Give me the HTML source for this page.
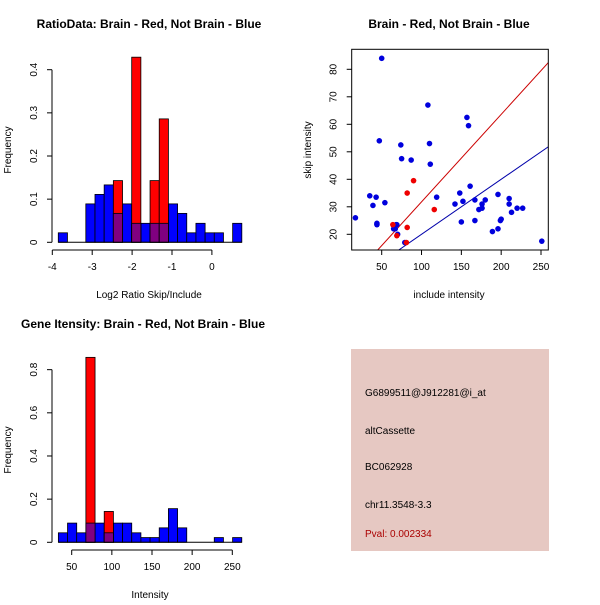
<!DOCTYPE html>
<html><head><meta charset="utf-8"><style>
body{margin:0;background:#fff;}
svg text{font-family:"Liberation Sans",sans-serif;}
</style></head><body>
<svg id="c" width="600" height="600" xmlns="http://www.w3.org/2000/svg">
<rect width="600" height="600" fill="#fff"/>
</svg>
<script>
// Panel 1: ratio histogram
const ratioBinStart = -3.85, ratioBinWidth = 0.23;
const ratioBlue = [0.022,0,0,0.089,0.111,0.133,0.067,0.089,0.044,0.044,0.044,0.044,0.089,0.067,0.022,0.044,0.022,0.022,0,0.044];
const ratioRed  = [0,0,0,0,0,0,0.143,0,0.429,0,0.143,0.286,0,0,0,0,0,0,0,0];
const ratioXTicks = [-4,-3,-2,-1,0];
const ratioYTicks = [0,0.1,0.2,0.3,0.4];
// Panel 3: intensity histogram
const intBinStart = 33.4, intBinWidth = 11.42;
const intBlue = [0.044,0.089,0.044,0.089,0.089,0.044,0.089,0.089,0.044,0.022,0.022,0.067,0.156,0.067,0,0,0,0.022,0,0.022];
const intRed  = [0,0,0,0.857,0,0.143,0,0,0,0,0,0,0,0,0,0,0,0,0,0];
const intXTicks = [50,100,150,200,250];
const intYTicks = [0,0.2,0.4,0.6,0.8];
// Panel 2: scatter
const blueX = [17,50,47,35,39,43,44,44,54,65,67,68,69,70,74,75,79,87,108,110,111,119,142,148,150,152,157,159,161,167,167,172,176,176,180,189,196,196,199,200,210,210,213,220,227,251];
const blueY = [26,84,54,34,30.5,33.5,24,23.5,31.5,22,22,23.5,23.5,20,52.5,47.5,17,47,67,53,45.5,33.5,31,35,24.5,32,62.5,59.5,37.5,32.5,25,29,29.5,31,32.5,21,34.5,22,25,25.5,33,31,28,29.5,29.5,17.5];
const redX = [64,69,82,82,90,116,81];
const redY = [23.5,19.5,35,22.5,39.5,29,17];
const scatXTicks = [50,100,150,200,250];
const scatYTicks = [20,30,40,50,60,70,80];
const redSlope = 0.318, blueSlope = 0.2;

const svg = document.getElementById('c');
const NS = 'http://www.w3.org/2000/svg';
function el(tag, attrs, parent){
  const e = document.createElementNS(NS, tag);
  for (const k in attrs) e.setAttribute(k, attrs[k]);
  (parent||svg).appendChild(e);
  return e;
}
function txt(x,y,s,size,opts){
  const t = el('text',{x:x,y:y,'font-size':size,'text-anchor':(opts&&opts.anchor)||'middle',fill:(opts&&opts.fill)||'#000'});
  if (opts&&opts.bold) t.setAttribute('font-weight','bold');
  if (opts&&opts.rot) t.setAttribute('transform','rotate(-90 '+x+' '+y+')');
  t.textContent = s;
  return t;
}

function hist(cfg){
  const sx = v => cfg.px0 + (v - cfg.x0) * cfg.kx;
  const sy = v => cfg.py0 - v * cfg.ky;
  const g = el('g',{});
  
  
  cfg.blue.forEach((v,i)=>{
    if (v<=0) return;
    const a = cfg.start + i*cfg.w, b = a + cfg.w;
    const r = el('rect',{x:sx(a),y:sy(v),width:sx(b)-sx(a),height:sy(0)-sy(v),fill:'#0000ff',stroke:'#000','stroke-width':0.8},g);
    
    
  });
  cfg.red.forEach((v,i)=>{
    if (v<=0) return;
    const a = cfg.start + i*cfg.w, b = a + cfg.w;
    const r = el('rect',{x:sx(a),y:sy(v),width:sx(b)-sx(a),height:sy(0)-sy(v),fill:'#ff0000',stroke:'#000','stroke-width':0.8},g);
    
    
    const ov = Math.min(v, cfg.blue[i]);
    if (ov>0) el('rect',{x:sx(a),y:sy(ov),width:sx(b)-sx(a),height:sy(0)-sy(ov),fill:'#800080',stroke:'#000','stroke-width':0.8},g);
  });
  el('line',{x1:sx(cfg.start),x2:sx(cfg.start+cfg.blue.length*cfg.w),y1:sy(0),y2:sy(0),stroke:'#000'},g);
  const xa = el('g',{});  
  const ay = cfg.xAxisY;
  el('line',{x1:sx(cfg.xt[0]),x2:sx(cfg.xt[cfg.xt.length-1]),y1:ay,y2:ay,stroke:'#000'},xa);
  cfg.xt.forEach(t=>{ el('line',{x1:sx(t),x2:sx(t),y1:ay,y2:ay+5,stroke:'#000'},xa); txt(sx(t),ay+20,String(t),10); });
  const ya = el('g',{});  
  const ax = cfg.yAxisX;
  el('line',{x1:ax,x2:ax,y1:sy(cfg.yt[0]),y2:sy(cfg.yt[cfg.yt.length-1]),stroke:'#000'},ya);
  cfg.yt.forEach(t=>{ el('line',{x1:ax,x2:ax-5,y1:sy(t),y2:sy(t),stroke:'#000'},ya); txt(ax-15,sy(t),String(t),10,{rot:true}); });
}

hist({name:'ratio-histogram',start:ratioBinStart,w:ratioBinWidth,blue:ratioBlue,red:ratioRed,
  x0:-4,px0:52.3,kx:39.9,py0:242.3,ky:431.5,xAxisY:250,yAxisX:52,xt:ratioXTicks,yt:ratioYTicks});
txt(149,28,'RatioData: Brain - Red, Not Brain - Blue',12,{bold:true});
txt(149,298,'Log2 Ratio Skip/Include',10);
txt(11,150,'Frequency',10,{rot:true});

hist({name:'intensity-histogram',start:intBinStart,w:intBinWidth,blue:intBlue,red:intRed,
  x0:50,px0:71.7,kx:0.803,py0:542.3,ky:215.8,xAxisY:550,yAxisX:52,xt:intXTicks,yt:intYTicks});
txt(143,328,'Gene Itensity: Brain - Red, Not Brain - Blue',12,{bold:true});
txt(150,598,'Intensity',10);
txt(11,450,'Frequency',10,{rot:true});

(function(){
  const L=351.7,R=548.3,T=49.3,B=250;
  const sx = v => 381.7 + (v-50)*0.7965;
  const sy = v => 234.3 - (v-20)*2.75;
  const g = el('g',{});  
  const cp = el('clipPath',{id:'clp'},g); el('rect',{x:L,y:T,width:R-L,height:B-T},cp);
  const lg = el('g',{'clip-path':'url(#clp)'},g);
  const xa0 = 12.3, xa1 = 259.2;
  const rl = el('line',{x1:sx(xa0),y1:sy(xa0*redSlope),x2:sx(xa1),y2:sy(xa1*redSlope),stroke:'#cc0000','stroke-width':1},lg);
   
  const bl = el('line',{x1:sx(xa0),y1:sy(xa0*blueSlope),x2:sx(xa1),y2:sy(xa1*blueSlope),stroke:'#0000aa','stroke-width':1},lg);
   
  blueX.forEach((x,i)=>{ const c=el('circle',{cx:sx(x),cy:sy(blueY[i]),r:2.8,fill:'#0000dd'},lg);
      });
  redX.forEach((x,i)=>{ const c=el('circle',{cx:sx(x),cy:sy(redY[i]),r:2.8,fill:'#ee0000'},lg);
      });
  el('rect',{x:L,y:T,width:R-L,height:B-T,fill:'none',stroke:'#000'},g);
  scatXTicks.forEach(t=>{ el('line',{x1:sx(t),x2:sx(t),y1:B,y2:B+5,stroke:'#000'},g); txt(sx(t),B+20,String(t),10); });
  scatYTicks.forEach(t=>{ el('line',{x1:L,x2:L-5,y1:sy(t),y2:sy(t),stroke:'#000'},g); txt(L-15,sy(t),String(t),10,{rot:true}); });
  txt(449,28,'Brain - Red, Not Brain - Blue',12,{bold:true});
  txt(449,298,'include intensity',10);
  txt(311,150,'skip intensity',10,{rot:true});
})();

(function(){
  const g = el('g',{});  
  el('rect',{x:351,y:349,width:198,height:202,fill:'#e6c8c2'},g);
  const lines = [['G6899511@J912281@i_at',396,'#000'],['altCassette',434,'#000'],['BC062928',470,'#000'],['chr11.3548-3.3',508,'#000'],['Pval: 0.002334',537,'#aa0000']];
  lines.forEach(l=>{ txt(365,l[1],l[0],10,{anchor:'start',fill:l[2]}); });
})();
</script>
</body></html>
